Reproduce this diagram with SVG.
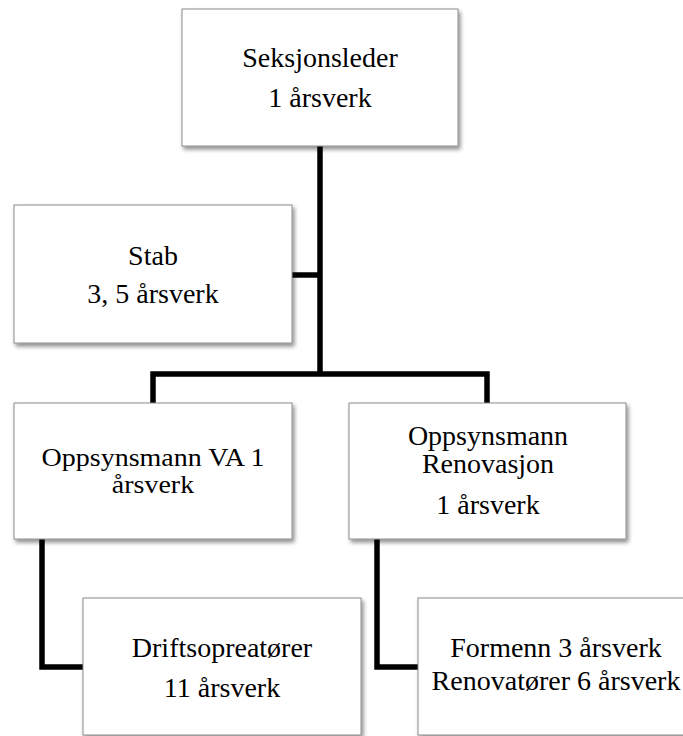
<svg xmlns="http://www.w3.org/2000/svg" width="683" height="736" viewBox="0 0 683 736">
<defs>
<filter id="sh" x="-10%" y="-10%" width="130%" height="130%">
<feGaussianBlur in="SourceAlpha" stdDeviation="2"/>
<feOffset dx="2" dy="3" result="b"/>
<feComponentTransfer><feFuncA type="linear" slope="0.45"/></feComponentTransfer>
<feMerge><feMergeNode/><feMergeNode in="SourceGraphic"/></feMerge>
</filter>
</defs>
<style>
.box{fill:#ffffff;stroke:#8c8c8c;stroke-width:1;filter:url(#sh)}
.t{font-family:"Liberation Serif","Times New Roman","DejaVu Serif",serif;font-size:28px;fill:#000;text-anchor:middle}
.c{fill:none;stroke:#000;stroke-width:5.5;stroke-linejoin:miter}
</style>
<rect width="683" height="736" fill="#fff"/>
<g id="connectors">
<path class="c" d="M320,146 V374"/>
<path class="c" d="M292,275 H320"/>
<path class="c" d="M153,403 V374 H487 V403"/>
<path class="c" d="M42,539 V667 H83"/>
<path class="c" d="M377,539 V667 H418"/>
</g>
<g id="seksjonsleder">
<rect class="box" x="182" y="9" width="276" height="137"/>
<text class="t" x="320" y="67" font-family="Liberation Serif, serif">Seksjonsleder</text>
<text class="t" x="320" y="107" font-family="Liberation Serif, serif">1 årsverk</text>
</g>
<g id="stab">
<rect class="box" x="14" y="205" width="278" height="138"/>
<text class="t" x="153" y="265" font-family="Liberation Serif, serif">Stab</text>
<text class="t" x="153" y="303" font-family="Liberation Serif, serif">3, 5 årsverk</text>
</g>
<g id="oppsynsmann-va">
<rect class="box" x="14" y="403" width="278" height="136"/>
<text class="t" transform="translate(153,466) scale(1,0.88)" font-family="Liberation Serif, serif">Oppsynsmann VA 1</text>
<text class="t" transform="translate(153,493) scale(1,0.88)" font-family="Liberation Serif, serif">årsverk</text>
</g>
<g id="oppsynsmann-renovasjon">
<rect class="box" x="349" y="403" width="277" height="136"/>
<text class="t" x="488" y="445" font-family="Liberation Serif, serif">Oppsynsmann</text>
<text class="t" x="488" y="473" font-family="Liberation Serif, serif">Renovasjon</text>
<text class="t" x="488" y="514" font-family="Liberation Serif, serif">1 årsverk</text>
</g>
<g id="driftsopreatorer">
<rect class="box" x="83" y="598" width="278" height="137"/>
<text class="t" x="222" y="657" font-family="Liberation Serif, serif">Driftsopreatører</text>
<text class="t" x="222" y="697" font-family="Liberation Serif, serif">11 årsverk</text>
</g>
<g id="formenn">
<rect class="box" x="418" y="598" width="278" height="137"/>
<text class="t" x="556" y="657" font-family="Liberation Serif, serif">Formenn 3 årsverk</text>
<text class="t" x="556" y="690" font-family="Liberation Serif, serif">Renovatører 6 årsverk</text>
</g>
</svg>
